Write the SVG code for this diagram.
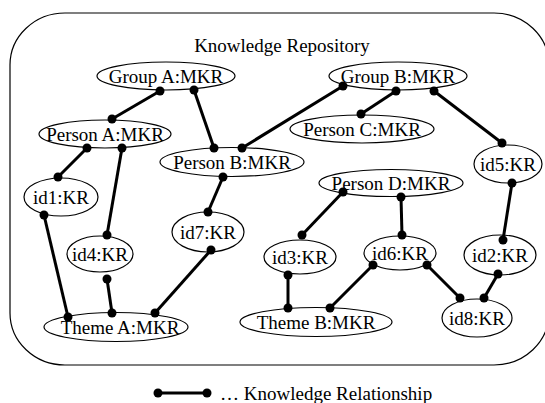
<svg xmlns="http://www.w3.org/2000/svg" width="545" height="403" viewBox="0 0 545 403" font-family="'Liberation Serif', 'Times New Roman', Times, 'DejaVu Serif', serif">
<style>
  text { font-family: "Liberation Serif", "Times New Roman", Times, "DejaVu Serif", serif; font-size: 19px; fill: #000; text-anchor: middle; }
  .node ellipse { fill: #fff; stroke: #000; stroke-width: 1.2; }
  .edge { stroke: #000; stroke-width: 3; fill: none; marker-start: url(#dot); marker-end: url(#dot); }
</style>
<defs>
  <marker id="dot" markerUnits="userSpaceOnUse" markerWidth="10" markerHeight="10" refX="5" refY="5" viewBox="0 0 10 10">
    <circle cx="5" cy="5" r="4.5" fill="#000"/>
  </marker>
</defs>
<rect width="545" height="403" fill="#fff"/>
<rect id="repository" x="10" y="13" width="539" height="352" rx="55" ry="52" fill="none" stroke="#000" stroke-width="1.2"/>
<text x="282" y="52">Knowledge Repository</text>

<g id="groupA" class="node"><ellipse cx="166" cy="76" rx="69" ry="14"/><text x="166" y="83">Group A:MKR</text></g>
<g id="groupB" class="node"><ellipse cx="398" cy="76" rx="69" ry="14"/><text x="398" y="83">Group B:MKR</text></g>
<g id="personA" class="node"><ellipse cx="105" cy="134" rx="66" ry="14"/><text x="105" y="141">Person A:MKR</text></g>
<g id="personB" class="node"><ellipse cx="232" cy="162" rx="72" ry="14.5"/><text x="232" y="169">Person B:MKR</text></g>
<g id="personC" class="node"><ellipse cx="362" cy="129" rx="72" ry="14"/><text x="362" y="136">Person C:MKR</text></g>
<g id="personD" class="node"><ellipse cx="391" cy="183" rx="72" ry="13.5"/><text x="391" y="190">Person D:MKR</text></g>
<g id="id5" class="node"><ellipse cx="508" cy="164" rx="34" ry="19"/><text x="508" y="171">id5:KR</text></g>
<g id="id1" class="node"><ellipse cx="61" cy="197" rx="37" ry="19"/><text x="61" y="204">id1:KR</text></g>
<g id="id4" class="node"><ellipse cx="100" cy="254" rx="33" ry="18"/><text x="100" y="261">id4:KR</text></g>
<g id="id7" class="node"><ellipse cx="208" cy="232" rx="36" ry="20"/><text x="208" y="239">id7:KR</text></g>
<g id="id3" class="node"><ellipse cx="300" cy="257" rx="36" ry="17"/><text x="300" y="264">id3:KR</text></g>
<g id="id6" class="node"><ellipse cx="400" cy="253" rx="36" ry="17"/><text x="400" y="260">id6:KR</text></g>
<g id="id2" class="node"><ellipse cx="500" cy="255" rx="36" ry="20"/><text x="500" y="262">id2:KR</text></g>
<g id="id8" class="node"><ellipse cx="477" cy="318" rx="35" ry="19"/><text x="477" y="325">id8:KR</text></g>
<g id="themeA" class="node"><ellipse cx="116" cy="327" rx="72" ry="14.5"/><text x="120" y="334">Theme A:MKR</text></g>
<g id="themeB" class="node"><ellipse cx="316" cy="322" rx="76" ry="14.5"/><text x="316" y="329">Theme B:MKR</text></g>

<g id="connectors">
  <line class="edge" x1="160" y1="91" x2="112" y2="119"/>
  <line class="edge" x1="194" y1="90" x2="214" y2="148"/>
  <line class="edge" x1="343" y1="86" x2="242" y2="148"/>
  <line class="edge" x1="396" y1="91" x2="361" y2="114"/>
  <line class="edge" x1="434" y1="91" x2="502" y2="143"/>
  <line class="edge" x1="87" y1="148" x2="58" y2="177"/>
  <line class="edge" x1="122" y1="148" x2="107" y2="235"/>
  <line class="edge" x1="223" y1="177" x2="208" y2="212"/>
  <line class="edge" x1="343" y1="192" x2="302" y2="235"/>
  <line class="edge" x1="401" y1="197" x2="402" y2="235"/>
  <line class="edge" x1="512" y1="183" x2="503" y2="240"/>
  <line class="edge" x1="44" y1="215" x2="68" y2="317"/>
  <line class="edge" x1="107" y1="279" x2="112" y2="313"/>
  <line class="edge" x1="211" y1="250" x2="155" y2="313"/>
  <line class="edge" x1="288" y1="275" x2="288" y2="308"/>
  <line class="edge" x1="373" y1="265" x2="330" y2="308"/>
  <line class="edge" x1="427" y1="265" x2="460" y2="298"/>
  <line class="edge" x1="498" y1="274" x2="484" y2="298"/>
</g>

<g id="legend">
  <line class="edge" x1="158" y1="393" x2="207" y2="393"/>
  <text x="220" y="400" style="text-anchor:start">… Knowledge Relationship</text>
</g>
</svg>
